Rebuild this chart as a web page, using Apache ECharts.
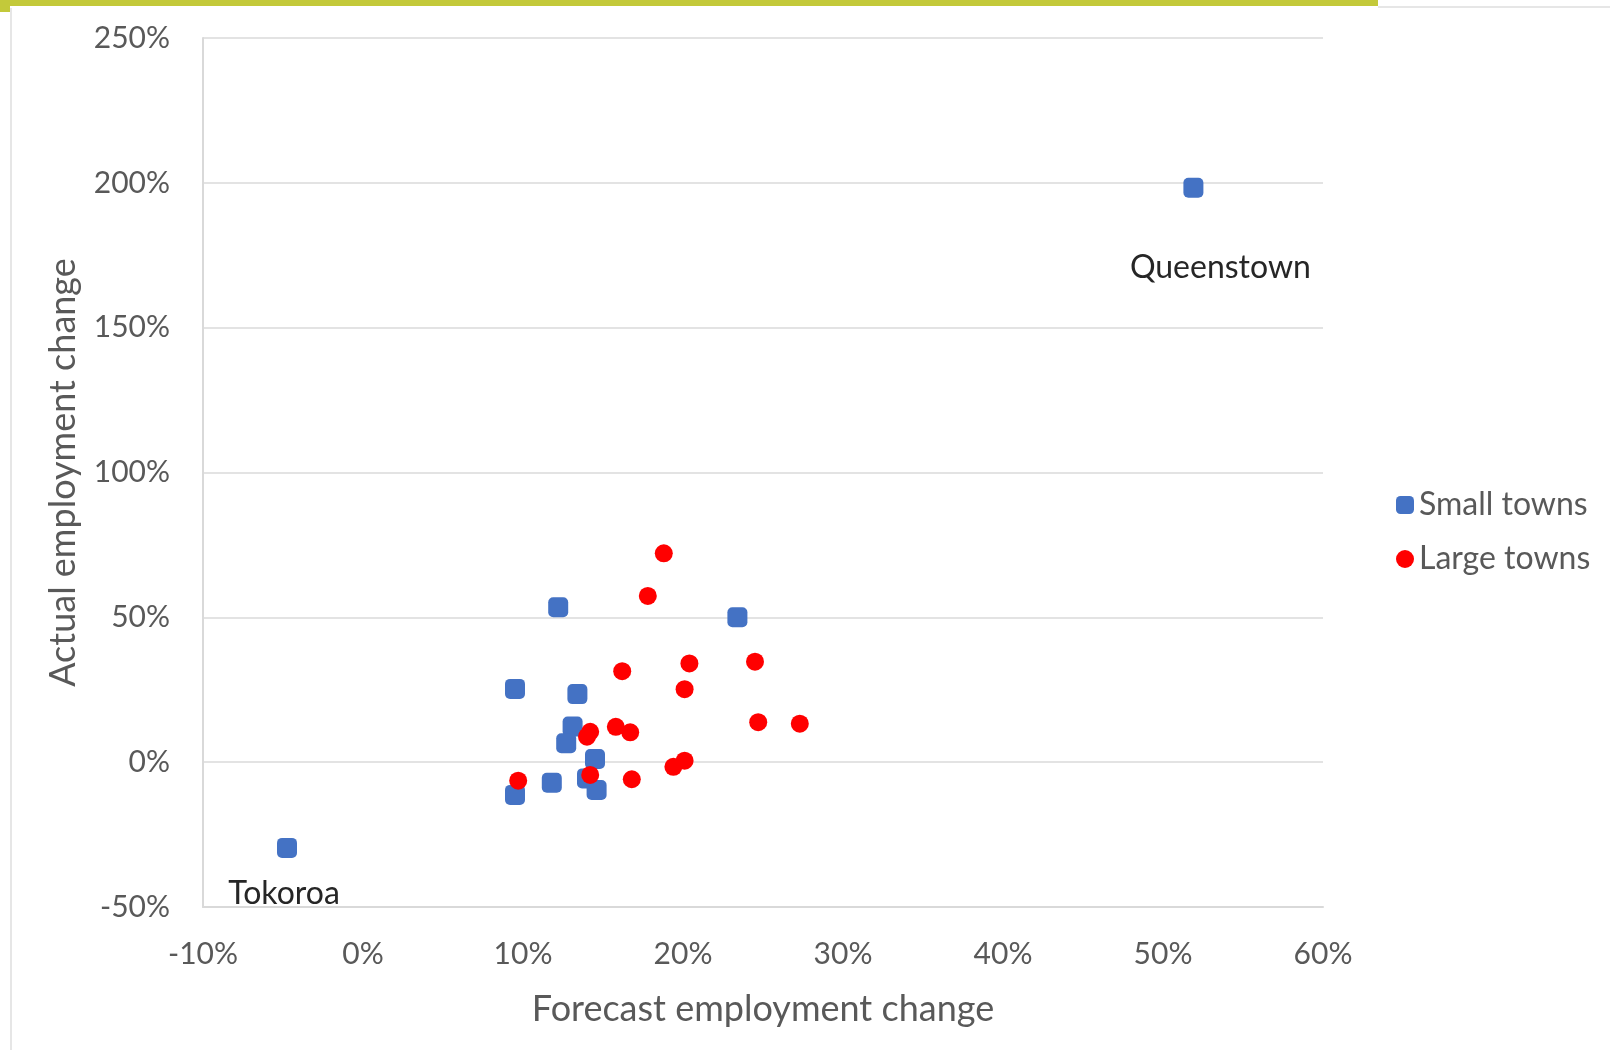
<!DOCTYPE html>
<html>
<head>
<meta charset="utf-8">
<title>Forecast vs actual employment change</title>
<script src="https://cdn.jsdelivr.net/npm/echarts@6/dist/echarts.min.js"></script>
<style>
  html, body { margin: 0; padding: 0; background: #fff; }
  #main { width: 1610px; height: 1050px; }
</style>
</head>
<body>
<div id="main"></div>
<script>
// forecast % , actual %
var smallTowns = [
  [-4.75, -29.6], [51.9, 198.3],
  [12.2, 53.5], [23.4, 50.0], [9.5, 25.3], [13.4, 23.5], [13.1, 12.3],
  [12.7, 6.5], [14.5, 1.1], [14.0, -5.6], [11.8, -7.1], [14.6, -9.6], [9.5, -11.3]
];
var largeTowns = [
  [18.8, 72.1], [17.8, 57.4], [16.2, 31.4], [20.4, 34.1], [20.1, 25.2],
  [24.5, 34.7], [24.7, 13.8], [27.3, 13.3], [15.8, 12.2], [16.7, 10.3],
  [14.2, 10.5], [14.0, 8.8], [20.1, 0.5], [19.4, -1.6], [14.2, -4.4],
  [16.8, -5.9], [9.7, -6.4]
];
var seriesNames = ['Small towns', 'Large towns'];
// labelled points (index into smallTowns)
var pointLabels = { 0: 'Tokoroa', 1: 'Queenstown' };

var fontFam = 'Lato, "Open Sans", sans-serif';
var myChart = echarts.init(document.getElementById('main'));

var smallData = smallTowns.map(function (p, i) {
  var item = { value: p };
  if (pointLabels[i] === 'Queenstown') {
    item.label = { show: true, formatter: 'Queenstown', position: 'bottom', offset: [27, 49] };
  } else if (pointLabels[i] === 'Tokoroa') {
    item.label = { show: true, formatter: 'Tokoroa', position: 'bottom', offset: [-3, 15] };
  }
  return item;
});

var option = {
  animation: false,
  backgroundColor: '#fff',
  textStyle: { fontFamily: fontFam },
  graphic: [
    { type: 'rect', shape: { x: 0, y: 0, width: 1378, height: 6 }, style: { fill: '#c3c93a' } },
    { type: 'rect', shape: { x: 0, y: 0, width: 10, height: 12 }, style: { fill: '#c3c93a' } },
    { type: 'line', shape: { x1: 11, y1: 8, x2: 11, y2: 1050 }, style: { stroke: '#e6e6e6', lineWidth: 2 } },
    { type: 'line', shape: { x1: 1378, y1: 7, x2: 1610, y2: 7 }, style: { stroke: '#e6e6e6', lineWidth: 2 } }
  ],
  grid: { left: 203, right: 287, top: 38, bottom: 143 },
  legend: {
    orient: 'vertical',
    left: 1391,
    top: 484,
    itemGap: 22,
    itemWidth: 18,
    itemHeight: 18,
    textStyle: { fontSize: 32, color: '#595959', fontFamily: fontFam },
    data: [
      { name: seriesNames[0], icon: 'roundRect' },
      { name: seriesNames[1], icon: 'circle' }
    ]
  },
  xAxis: {
    type: 'value',
    min: -10, max: 60, interval: 10,
    name: 'Forecast employment change',
    nameLocation: 'middle',
    nameGap: 84,
    nameTextStyle: { fontSize: 36, color: '#595959' },
    axisLine: { show: true, onZero: false, lineStyle: { color: '#d9d9d9', width: 2 } },
    axisTick: { show: false },
    splitLine: { show: false },
    axisLabel: { formatter: '{value}%', fontSize: 30, color: '#595959', margin: 32 }
  },
  yAxis: {
    type: 'value',
    min: -50, max: 250, interval: 50,
    name: 'Actual employment change',
    nameLocation: 'middle',
    nameGap: 122,
    nameRotate: 90,
    nameTextStyle: { fontSize: 36, color: '#595959' },
    axisLine: { show: true, onZero: false, lineStyle: { color: '#d9d9d9', width: 2 } },
    axisTick: { show: false },
    splitLine: { show: true, lineStyle: { color: '#e3e3e3', width: 2 } },
    axisLabel: { formatter: '{value}%', fontSize: 30, color: '#595959', margin: 33 }
  },
  series: [
    {
      name: seriesNames[0],
      type: 'scatter',
      symbol: 'roundRect',
      symbolSize: 20,
      itemStyle: { color: '#4472c4', opacity: 1 },
      label: { color: '#262626', fontSize: 32, fontFamily: fontFam },
      data: smallData,
      z: 2
    },
    {
      name: seriesNames[1],
      type: 'scatter',
      symbol: 'circle',
      symbolSize: 18,
      itemStyle: { color: '#ff0000', opacity: 1 },
      data: largeTowns,
      z: 3
    }
  ]
};

myChart.setOption(option);
window.onresize = function () {
  myChart.resize();
};
</script>
</body>
</html>
